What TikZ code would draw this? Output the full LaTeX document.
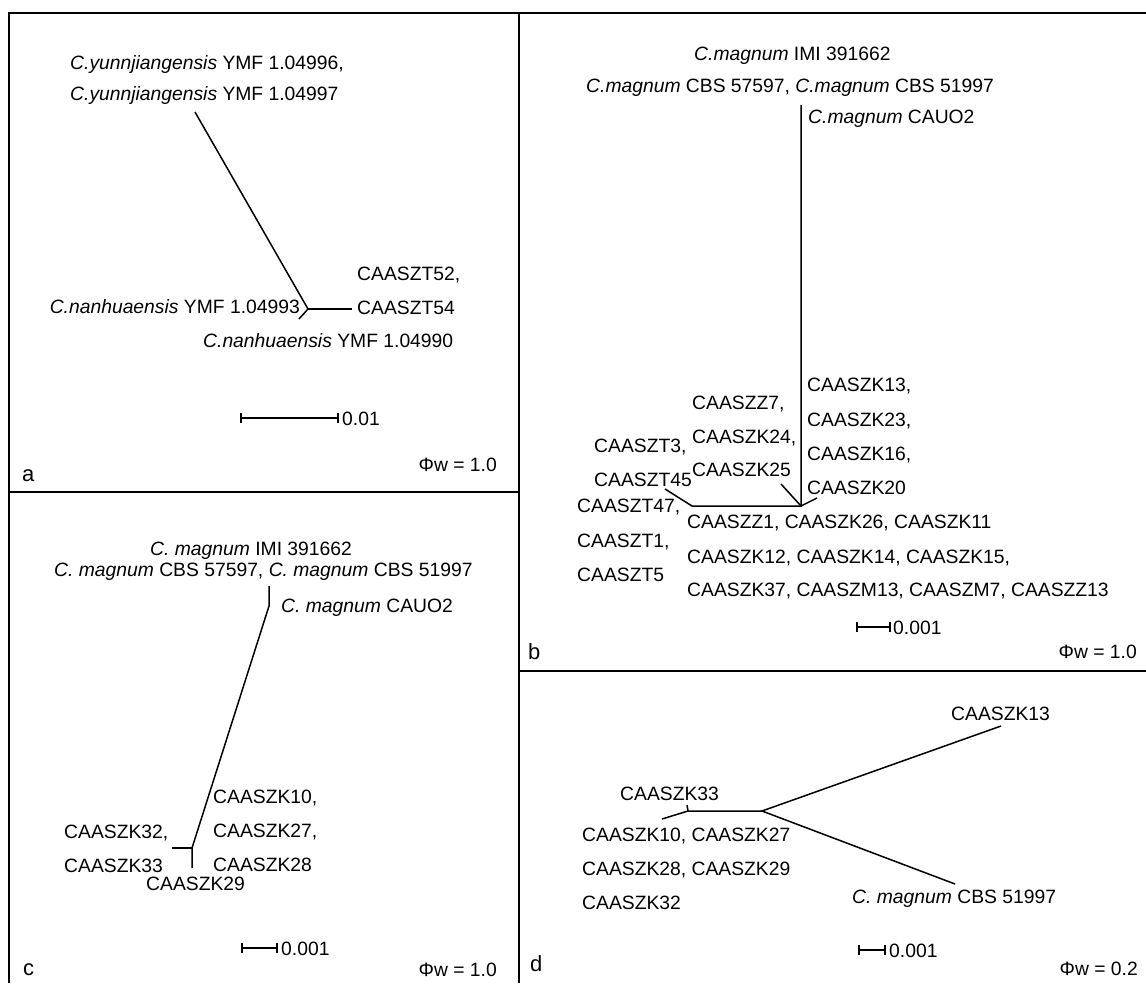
\documentclass[tikz,border=0pt]{standalone}
\usepackage{fontspec}
\setmainfont{Liberation Sans}
\begin{document}
\begin{tikzpicture}[x=1pt,y=-1pt,
  lbl/.style={inner sep=0pt, text height=14pt, text depth=0pt, font=\fontsize{19.3}{23}\selectfont},
  lw/.style={lbl, anchor=west},
  le/.style={lbl, anchor=east},
  br/.style={line width=1.5pt},
  framel/.style={line width=2.8pt},
  tag/.style={inner sep=0pt, anchor=base west, font=\fontsize{22}{25}\selectfont}]
\useasboundingbox (0,0) rectangle (1146,983);
% frame
\coordinate (fBL) at (9,983); \coordinate (fTL) at (9,13); \coordinate (fTR) at (1146,13);
\coordinate (fMT) at (519,13); \coordinate (fMB) at (519,983);
\coordinate (fLH1) at (9,492); \coordinate (fLH2) at (519,492);
\coordinate (fRH1) at (519,671); \coordinate (fRH2) at (1146,671);
\draw[framel] (fBL) -- (fTL) -- (fTR);
\draw[framel] (fMT) -- (fMB);
\draw[framel] (fLH1) -- (fLH2);
\draw[framel] (fRH1) -- (fRH2);

% ---------- panel a ----------
\node[lw] (ay1) at (70,62) {\textit{C.yunnjiangensis} YMF 1.04996,};
\node[lw] (ay2) at (70,93) {\textit{C.yunnjiangensis} YMF 1.04997};
\node[lw] (az1) at (357,273) {CAASZT52,};
\node[lw] (az2) at (357,307) {CAASZT54};
\node[le] (an1) at (300,306) {\textit{C.nanhuaensis} YMF 1.04993};
\node[lw] (an2) at (203,340) {\textit{C.nanhuaensis} YMF 1.04990};
\coordinate (ayE) at (195,112);
\coordinate (aN) at (308,309);
\coordinate (anE) at (299,319);
\coordinate (azE) at (352,309);
\draw[br] (ayE) -- (aN) -- (anE);
\draw[br] (aN) -- (azE);
\coordinate (as1) at (241,418); \coordinate (as2) at (338,418);
\draw[br] (as1) -- (as2);
\draw[br] ([yshift=-5pt]as1) -- ([yshift=5pt]as1);
\draw[br] ([yshift=-5pt]as2) -- ([yshift=5pt]as2);
\node[lw] (asl) at (342,418) {0.01};
\node[le] (aphi) at (497,464) {Φw = 1.0};
\node[tag] (atag) at (22,481) {a};

% ---------- panel b ----------
\node[lw] (bm1) at (694,53) {\textit{C.magnum} IMI 391662};
\node[lw] (bm2) at (586,85) {\textit{C.magnum} CBS 57597, \textit{C.magnum} CBS 51997};
\node[lw] (bm3) at (808,116) {\textit{C.magnum} CAUO2};
\node[lw] (bz7) at (692,402) {CAASZZ7,};
\node[lw] (bk24) at (692,436) {CAASZK24,};
\node[lw] (bk25) at (692,469) {CAASZK25};
\node[lw] (bt3) at (594,445) {CAASZT3,};
\node[lw] (bt45) at (594,479) {CAASZT45};
\node[lw] (bt47) at (577,505) {CAASZT47,};
\node[lw] (bt1) at (577,540) {CAASZT1,};
\node[lw] (bt5) at (577,574) {CAASZT5};
\node[lw] (bk13) at (807,384) {CAASZK13,};
\node[lw] (bk23) at (807,419) {CAASZK23,};
\node[lw] (bk16) at (807,453) {CAASZK16,};
\node[lw] (bk20) at (807,487) {CAASZK20};
\node[lw] (bg1) at (687,521) {CAASZZ1, CAASZK26, CAASZK11};
\node[lw] (bg2) at (687,556) {CAASZK12, CAASZK14, CAASZK15,};
\node[lw] (bg3) at (687,589) {CAASZK37, CAASZM13, CAASZM7, CAASZZ13};
\coordinate (bTop) at (801,105);
\coordinate (bN) at (801,506);
\coordinate (bL) at (692,506);
\coordinate (bLE) at (665,489);
\coordinate (b25) at (781,484);
\coordinate (b20) at (817,498);
\draw[br] (bTop) -- (bN) -- (bL) -- (bLE);
\draw[br] (b25) -- (bN) -- (b20);
\coordinate (bs1) at (857,627); \coordinate (bs2) at (890,627);
\draw[br] (bs1) -- (bs2);
\draw[br] ([yshift=-5pt]bs1) -- ([yshift=5pt]bs1);
\draw[br] ([yshift=-5pt]bs2) -- ([yshift=5pt]bs2);
\node[lw] (bsl) at (893,627) {0.001};
\node[le] (bphi) at (1137,651) {Φw = 1.0};
\node[tag] (btag) at (528,659) {b};

% ---------- panel c ----------
\node[lw] (cm1) at (150,548) {\textit{C. magnum} IMI 391662};
\node[lw] (cm2) at (54,569) {\textit{C. magnum} CBS 57597, \textit{C. magnum} CBS 51997};
\node[lw] (cm3) at (281,605) {\textit{C. magnum} CAUO2};
\node[lw] (ck10) at (213,796) {CAASZK10,};
\node[lw] (ck27) at (213,830) {CAASZK27,};
\node[lw] (ck28) at (213,864) {CAASZK28};
\node[lw] (ck32) at (64,831) {CAASZK32,};
\node[lw] (ck33) at (64,865) {CAASZK33};
\node[lw] (ck29) at (146,883) {CAASZK29};
\coordinate (cTop) at (269,586);
\coordinate (cB) at (269,606);
\coordinate (cN) at (192,848);
\coordinate (cL) at (172,848);
\coordinate (cD) at (192,868);
\draw[br] (cTop) -- (cB) -- (cN) -- (cD);
\draw[br] (cL) -- (cN);
\coordinate (cs1) at (242,948); \coordinate (cs2) at (277,948);
\draw[br] (cs1) -- (cs2);
\draw[br] ([yshift=-5pt]cs1) -- ([yshift=5pt]cs1);
\draw[br] ([yshift=-5pt]cs2) -- ([yshift=5pt]cs2);
\node[lw] (csl) at (281,948) {0.001};
\node[le] (cphi) at (497,969) {Φw = 1.0};
\node[tag] (ctag) at (23,975) {c};

% ---------- panel d ----------
\node[lw] (dk13) at (951,713) {CAASZK13};
\node[lw] (dm) at (852,896) {\textit{C. magnum} CBS 51997};
\node[lw] (dk33) at (620,793) {CAASZK33};
\node[lw] (dg1) at (582,834) {CAASZK10, CAASZK27};
\node[lw] (dg2) at (582,868) {CAASZK28, CAASZK29};
\node[lw] (dg3) at (582,902) {CAASZK32};
\coordinate (dN) at (762,811);
\coordinate (d13) at (1001,726);
\coordinate (dM) at (955,884);
\coordinate (dL) at (688,811);
\coordinate (dLE) at (662,819);
\coordinate (dT) at (687,805);
\draw[br] (d13) -- (dN) -- (dM);
\draw[br] (dN) -- (dL) -- (dLE);
\draw[br] (dL) -- (dT);
\coordinate (ds1) at (859,950); \coordinate (ds2) at (885,950);
\draw[br] (ds1) -- (ds2);
\draw[br] ([yshift=-5pt]ds1) -- ([yshift=5pt]ds1);
\draw[br] ([yshift=-5pt]ds2) -- ([yshift=5pt]ds2);
\node[lw] (dsl) at (889,950) {0.001};
\node[le] (dphi) at (1138,968) {Φw = 0.2};
\node[tag] (dtag) at (530,971) {d};
\end{tikzpicture}
\end{document}
